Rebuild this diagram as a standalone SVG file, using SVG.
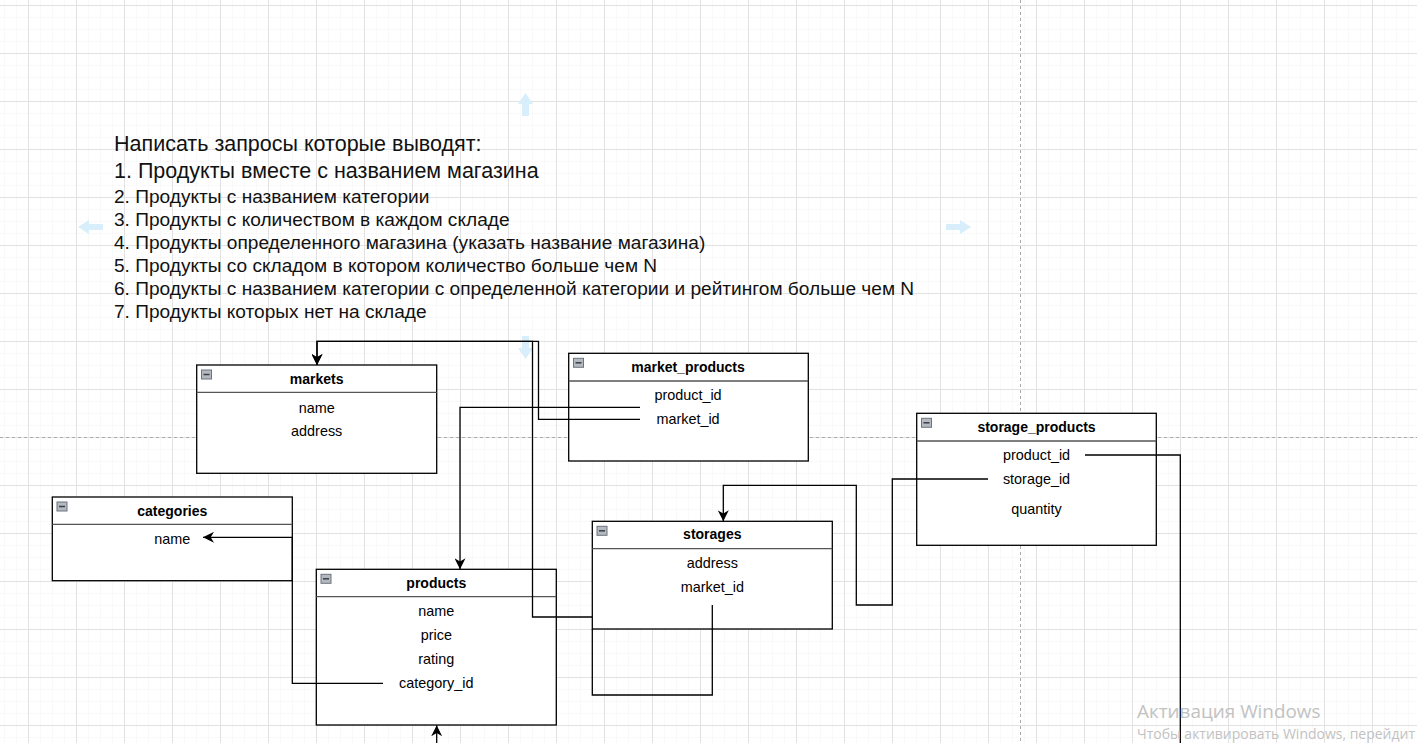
<svg xmlns="http://www.w3.org/2000/svg" width="1417" height="743" viewBox="0 0 1417 743">
<style>
.box{fill:#fff;stroke:#000;stroke-width:1.3}
.sep{stroke:#555;stroke-width:1.3}
.ttl{font-family:"Liberation Sans",Arial,sans-serif;font-size:14px;font-weight:bold;fill:#000;text-anchor:middle}
.fld{font-family:"Liberation Sans",Arial,sans-serif;font-size:14.4px;fill:#000;text-anchor:middle}
.icon{fill:#b4b8c0;stroke:#6e737c;stroke-width:1}
.icm{stroke:#3a3d42;stroke-width:1.5}
.conn{fill:none;stroke:#000;stroke-width:1.3}
.note{font-family:"Liberation Sans",Arial,sans-serif;fill:#111}
.hint{fill:#d8eefa}
.wm{font-family:"Open Sans","Noto Sans",sans-serif;fill:#c2c2c2}
</style>
<defs>
<pattern id="minor" x="4" y="5" width="12" height="12" patternUnits="userSpaceOnUse">
<path d="M0,0 H12 M0,0 V12" fill="none" stroke="#f3f3f3" stroke-width="1"/>
</pattern>
<pattern id="major" x="28" y="5" width="48" height="48" patternUnits="userSpaceOnUse">
<path d="M0,0.5 H48 M0.5,0 V48" fill="none" stroke="#e2e2e2" stroke-width="1"/>
</pattern>
<marker id="arr" markerUnits="userSpaceOnUse" markerWidth="11" markerHeight="11" refX="10" refY="5" orient="auto" viewBox="0 0 10 10">
<path d="M0,0 L10,5 L0,10 L3,5 Z" fill="#000"/>
</marker>
</defs>
<rect width="1417" height="743" fill="#fff"/>
<rect width="1417" height="743" fill="url(#minor)"/>
<rect width="1417" height="743" fill="url(#major)"/>
<g id="pagebreaks" stroke="#aaa" stroke-width="1" stroke-dasharray="3,3">
<line x1="1020.5" y1="0" x2="1020.5" y2="743"/>
<line x1="0" y1="437.5" x2="1417" y2="437.5"/>
</g>
<g id="hints">
<path class="hint" d="M522,116 V104 H518 L525.5,93 L533,104 H529 V116 Z"/>
<path class="hint" d="M103,224 H89 V220 L78,227 L89,234 V230 H103 Z"/>
<path class="hint" d="M946,224 H960 V220 L971,227 L960,234 V230 H946 Z"/>
<path class="hint" d="M522,336 V348 H518 L525.5,359 L533,348 H529 V336 Z"/>
</g>
<g id="note" class="note">
<text x="114" y="151" font-size="21.5">Написать запросы которые выводят:</text>
<text x="114" y="178" font-size="21.5">1. Продукты вместе с названием магазина</text>
<text x="114" y="203" font-size="19.1">2. Продукты с названием категории</text>
<text x="114" y="226" font-size="19.1">3. Продукты с количеством в каждом складе</text>
<text x="114" y="249" font-size="19.1">4. Продукты определенного магазина (указать название магазина)</text>
<text x="114" y="272" font-size="19.1">5. Продукты со складом в котором количество больше чем N</text>
<text x="114" y="295" font-size="19.1">6. Продукты с названием категории с определенной категории и рейтингом больше чем N</text>
<text x="114" y="318" font-size="19.1">7. Продукты которых нет на складе</text>
</g>
<g id="markets">
<rect class="box" x="196.7" y="365" width="240" height="108.3"/>
<line class="sep" x1="196.7" y1="392.3" x2="436.7" y2="392.3"/>
<rect class="icon" x="201.5" y="370" width="10" height="9"/>
<line class="icm" x1="203.5" y1="374.5" x2="209.5" y2="374.5"/>
<text class="ttl" x="316.7" y="384">markets</text>
<text class="fld" x="316.7" y="412.5">name</text>
<text class="fld" x="316.7" y="436.3">address</text>
</g>
<g id="market_products">
<rect class="box" x="568.7" y="353.3" width="239.6" height="107.7"/>
<line class="sep" x1="568.7" y1="381" x2="808.3" y2="381"/>
<rect class="icon" x="573.5" y="358.3" width="10" height="9"/>
<line class="icm" x1="575.5" y1="362.8" x2="581.5" y2="362.8"/>
<text class="ttl" x="688" y="371.7">market_products</text>
<text class="fld" x="688" y="400.3">product_id</text>
<text class="fld" x="688" y="424.3">market_id</text>
</g>
<g id="storage_products">
<rect class="box" x="916.7" y="413.3" width="239.6" height="132"/>
<line class="sep" x1="916.7" y1="441" x2="1156.3" y2="441"/>
<rect class="icon" x="921.5" y="418.3" width="10" height="9"/>
<line class="icm" x1="923.5" y1="422.8" x2="929.5" y2="422.8"/>
<text class="ttl" x="1036.5" y="431.7">storage_products</text>
<text class="fld" x="1036.5" y="460.3">product_id</text>
<text class="fld" x="1036.5" y="484.3">storage_id</text>
<text class="fld" x="1036.5" y="514.3">quantity</text>
</g>
<g id="categories">
<rect class="box" x="52.3" y="497" width="240" height="83.7"/>
<line class="sep" x1="52.3" y1="524.3" x2="292.3" y2="524.3"/>
<rect class="icon" x="57" y="502" width="10" height="9"/>
<line class="icm" x1="59" y1="506.5" x2="65" y2="506.5"/>
<text class="ttl" x="172.3" y="515.7">categories</text>
<text class="fld" x="172.3" y="544.3">name</text>
</g>
<g id="products">
<rect class="box" x="316.3" y="569.3" width="240" height="155.7"/>
<line class="sep" x1="316.3" y1="596.7" x2="556.3" y2="596.7"/>
<rect class="icon" x="321" y="574.3" width="10" height="9"/>
<line class="icm" x1="323" y1="578.8" x2="329" y2="578.8"/>
<text class="ttl" x="436.3" y="587.7">products</text>
<text class="fld" x="436.3" y="616">name</text>
<text class="fld" x="436.3" y="640">price</text>
<text class="fld" x="436.3" y="664">rating</text>
<text class="fld" x="436.3" y="688">category_id</text>
</g>
<g id="storages">
<rect class="box" x="592.3" y="521.3" width="240" height="107.7"/>
<line class="sep" x1="592.3" y1="548.7" x2="832.3" y2="548.7"/>
<rect class="icon" x="597" y="526.3" width="10" height="9"/>
<line class="icm" x1="599" y1="530.8" x2="605" y2="530.8"/>
<text class="ttl" x="712.3" y="539.3">storages</text>
<text class="fld" x="712.3" y="567.5">address</text>
<text class="fld" x="712.3" y="591.5">market_id</text>
</g>
<g id="connectors">
<path class="conn" d="M640,419.3 H538.5 V341.3 H317 V365" marker-end="url(#arr)"/>
<path class="conn" d="M592.3,617 H532.5 V341.3 H317 V365" marker-end="url(#arr)"/>
<path class="conn" d="M640,407.3 H460 V569.3" marker-end="url(#arr)"/>
<path class="conn" d="M383,683.3 H292.3 V537.3 H203" marker-end="url(#arr)"/>
<path class="conn" d="M988,479 H892.3 V605 H856.3 V485.3 H723.3 V521.3" marker-end="url(#arr)"/>
<path class="conn" d="M1085,455 H1180.3 V770 H436.7 V725.3" marker-end="url(#arr)"/>
<path class="conn" d="M712.3,605 V695 H592.3 V629"/>
</g>
<g id="watermark" class="wm">
<text x="1137" y="718" font-size="18.9">Активация Windows</text>
<text x="1137" y="739" font-size="14.2" textLength="278" lengthAdjust="spacingAndGlyphs">Чтобы активировать Windows, перейдит</text>
</g>
</svg>
